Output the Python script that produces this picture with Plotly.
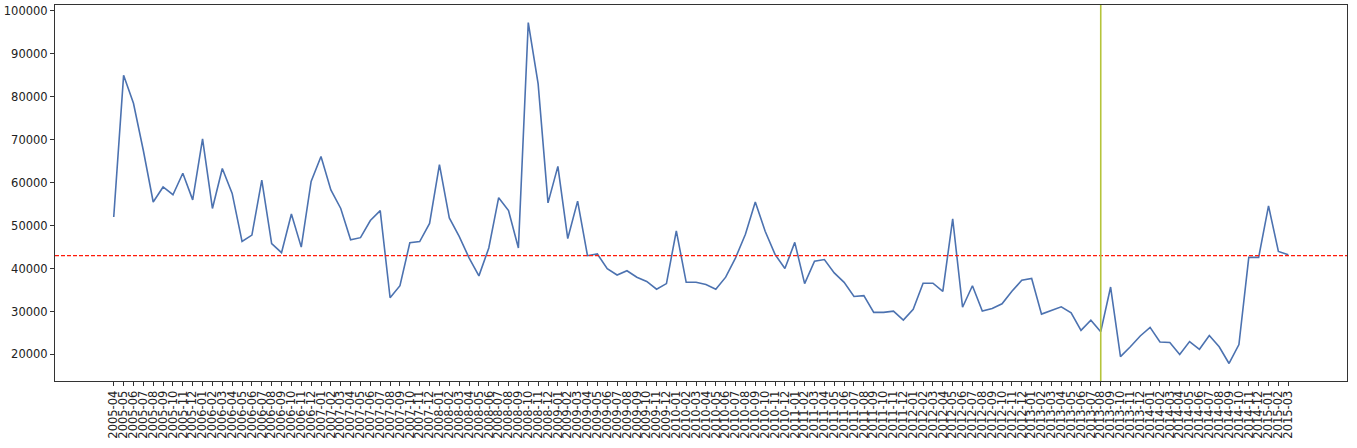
import plotly.graph_objects as go
import pandas as pd

months = [d.strftime("%Y-%m") for d in pd.date_range("2005-04-01", "2015-03-01", freq="MS")]

values = [
    52000, 85000, 78500, 67500, 55500, 59000, 57200, 62200, 56000, 70200,
    54000, 63300, 57500, 46300, 47800, 60600, 45800, 43700, 52700, 45000,
    60300, 66100, 58300, 54000, 46700, 47200, 51200, 53500, 33200, 36000,
    46000, 46300, 50500, 64200, 51800, 47500, 42500, 38300, 44800, 56500,
    53500, 44800, 97300, 83000, 55300, 63800, 47000, 55700, 43000, 43400,
    40000, 38500, 39500, 38000, 37000, 35200, 36500, 48800, 36800, 36800,
    36300, 35200, 38000, 42500, 48000, 55500, 48700, 43300, 40000, 46100,
    36500, 41700, 42100, 39000, 36800, 33500, 33700, 29800, 29800, 30100,
    28000, 30500, 36600, 36600, 34700, 51600, 31000, 36000, 30100, 30700,
    31800, 34700, 37300, 37700, 29400, 30200, 31100, 29700, 25600, 28000,
    25300, 35700, 19500, 21800, 24300, 26300, 22900, 22800, 20000, 23000,
    21200, 24400, 21800, 17900, 22300, 42600, 42600, 54600, 44000, 43200,
]

reference_level = 43000
marker_month = "2013-08"
y_ticks = [20000, 30000, 40000, 50000, 60000, 70000, 80000, 90000, 100000]

fig = go.Figure()
fig.add_trace(go.Scatter(
    x=months, y=values, mode="lines",
    line=dict(color="#4c72b0", width=1.6),
    showlegend=False, hoverinfo="x+y",
))

fig.add_shape(type="line", xref="paper", yref="y", x0=0, x1=1,
              y0=reference_level, y1=reference_level,
              line=dict(color="#ff1a0a", width=1.2, dash="4px,2px"))
fig.add_shape(type="line", xref="x", yref="paper", x0=marker_month, x1=marker_month,
              y0=0, y1=1, line=dict(color="#b5c43a", width=1.6))

n = len(months)
pad = (n - 1) * 0.05
fig.update_layout(
    width=1357, height=448,
    margin=dict(l=55, r=10, t=5, b=67),
    paper_bgcolor="white", plot_bgcolor="white",
    font=dict(family="DejaVu Sans", size=11.5, color="#222222"),
    xaxis=dict(
        type="category", range=[-pad, n - 1 + pad], automargin=False,
        tickmode="array", tickvals=months, ticktext=months,
        tickangle=-90, ticks="outside", ticklen=4, tickcolor="#333",
        showline=True, linecolor="#333", linewidth=1, mirror=True,
        showgrid=False, zeroline=False, tickfont=dict(size=11.5),
    ),
    yaxis=dict(
        range=[13820, 101380], automargin=False,
        tickmode="array", tickvals=y_ticks, ticktext=[str(v) for v in y_ticks],
        ticks="outside", ticklen=4, tickcolor="#333",
        showline=True, linecolor="#333", linewidth=1, mirror=True,
        showgrid=False, zeroline=False, tickfont=dict(size=11.5),
    ),
)

fig.write_html("out.html", config={"displayModeBar": False},
               post_script="document.body.style.margin='0';")
